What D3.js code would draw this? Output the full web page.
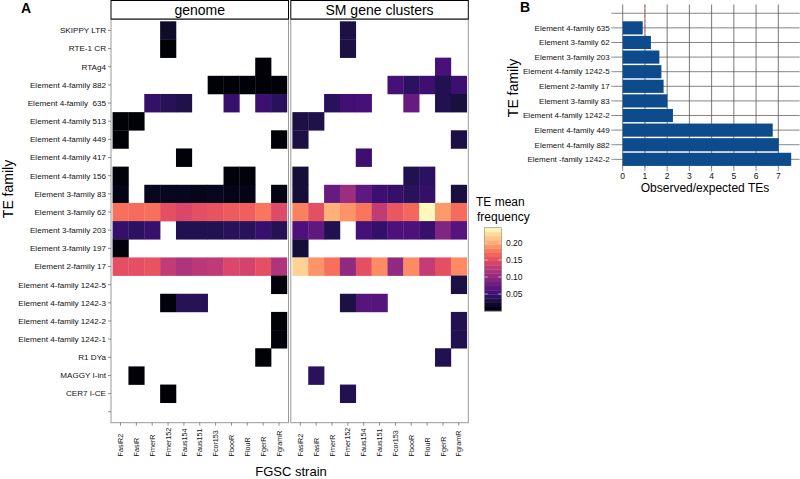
<!DOCTYPE html>
<html><head><meta charset="utf-8">
<script src="https://cdn.jsdelivr.net/npm/d3@7"></script>
<style>body{margin:0;background:#fff}svg{display:block;font-family:"Liberation Sans",Arial,sans-serif}</style>
</head><body><svg id="c" width="800" height="479"></svg>
<script>
const strains = ["FasiR2","FasiR","FmerR","Fmer152","Faus154","Faus151","Fcor153","FbooR","FlouR","FgerR","FgramR"];
const families = ["SKIPPY LTR","RTE-1 CR","RTAg4","Element 4-family 882","Element 4-family  635","Element 4-family 513","Element 4-family 449","Element 4-family 417","Element 4-family 156","Element 3-family 83","Element 3-family 62","Element 3-family 203","Element 3-family 197","Element 2-family 17","Element 4-family 1242-5","Element 4-family 1242-3","Element 4-family 1242-2","Element 4-family 1242-1","R1 DYa","MAGGY I-int","CER7 I-CE",""];
const panelNames = ["genome","SM gene clusters"];
const _ = null;
const genomeValues = [
 [_,_,_,0.02,_,_,_,_,_,_,_],
 [_,_,_,0.003,_,_,_,_,_,_,_],
 [_,_,_,_,_,_,_,_,_,0.004,_],
 [_,_,_,_,_,_,0.003,0.003,0.003,0.003,0.003],
 [_,_,0.045,0.038,0.033,_,_,0.048,_,0.05,0.04],
 [0.003,0.003,_,_,_,_,_,_,_,_,_],
 [0.003,_,_,_,_,_,_,_,_,_,0.003],
 [_,_,_,_,0.003,_,_,_,_,_,_],
 [0.006,_,_,_,_,_,_,0.006,0.006,_,_],
 [0.01,_,0.015,0.015,0.013,0.012,0.015,0.01,0.01,_,0.01],
 [0.172,0.17,0.172,0.152,0.145,0.152,0.155,0.16,0.162,0.175,0.148],
 [0.045,0.042,0.048,_,0.035,0.035,0.035,0.04,0.04,0.048,0.037],
 [0.006,_,_,_,_,_,_,_,_,_,_],
 [0.152,0.152,0.155,0.13,0.118,0.125,0.128,0.145,0.14,0.152,0.118],
 [_,_,_,_,_,_,_,_,_,_,0.006],
 [_,_,_,0.006,0.038,0.038,_,_,_,_,_],
 [_,_,_,_,_,_,_,_,_,_,0.003],
 [_,_,_,_,_,_,_,_,_,_,0.006],
 [_,_,_,_,_,_,_,_,_,0.003,_],
 [_,0.004,_,_,_,_,_,_,_,_,_],
 [_,_,_,0.002,_,_,_,_,_,_,_]
];
const smValues = [
 [_,_,_,0.03,_,_,_,_,_,_,_],
 [_,_,_,0.03,_,_,_,_,_,_,_],
 [_,_,_,_,_,_,_,_,_,0.058,_],
 [_,_,_,_,_,_,0.055,0.042,0.05,0.035,0.05],
 [_,_,0.04,0.053,0.055,_,_,0.075,_,0.035,0.028],
 [0.03,0.033,_,_,_,_,_,_,_,_,_],
 [0.03,_,_,_,_,_,_,_,_,_,0.03],
 [_,_,_,_,0.05,_,_,_,_,_,_],
 [0.025,_,_,_,_,_,_,0.035,0.042,_,_],
 [0.025,_,0.075,0.108,0.07,0.05,0.045,0.04,0.045,_,0.028],
 [0.18,0.152,0.205,0.19,0.175,0.13,0.157,0.167,0.243,0.193,0.17],
 [0.06,0.07,0.035,_,0.055,0.045,0.06,0.06,0.048,0.09,0.065],
 [0.025,_,_,_,_,_,_,_,_,_,_],
 [0.222,0.19,0.172,0.1,0.152,0.185,0.1,0.185,0.132,0.152,0.185],
 [_,_,_,_,_,_,_,_,_,_,0.03],
 [_,_,_,0.03,0.065,0.065,_,_,_,_,_],
 [_,_,_,_,_,_,_,_,_,_,0.035],
 [_,_,_,_,_,_,_,_,_,_,0.035],
 [_,_,_,_,_,_,_,_,_,0.035,_],
 [_,0.04,_,_,_,_,_,_,_,_,_],
 [_,_,_,0.035,_,_,_,_,_,_,_]
];
const legendTicks = [0.05,0.10,0.15,0.20];
const colorMax = 0.245;

const bFamilies = ["","Element 4-family 635","Element 3-family 62","Element 3-family 203","Element 4-family 1242-5","Element 2-family 17","Element 3-family 83","Element 4-family 1242-2","Element 4-family 449","Element 4-family 882","Element -family 1242-2"];
const bValues = [null,0.9,1.27,1.65,1.74,1.84,2.01,2.26,6.75,7.02,7.58];
const bTicks = [0,1,2,3,4,5,6,7];

const svg = d3.select("#c");
const color = d3.scaleSequential(d3.interpolateMagma).domain([0,colorMax]);
const txt = "#111";

// ---------- Panel A ----------
const pTop = 19.5, pBottom = 422.7;
const y = d3.scaleLinear().domain([0.4, families.length+0.6]).range([pTop,pBottom]);
const panelX = [[111,288.5],[290.8,468.3]];
const panelData = [genomeValues, smValues];

svg.append("text").attr("x",21).attr("y",12.5).attr("font-size",14).attr("font-weight","bold").text("A");

panelX.forEach((px,p)=>{
  const x = d3.scaleLinear().domain([0.4, strains.length+0.6]).range(px);
  const g = svg.append("g");
  g.append("rect").attr("x",px[0]).attr("y",pTop).attr("width",px[1]-px[0]).attr("height",pBottom-pTop)
    .attr("fill","#fff");
  const cells = [];
  panelData[p].forEach((row,i)=>row.forEach((v,j)=>{ if(v!==null) cells.push({i,j,v}); }));
  g.selectAll("rect.cell").data(cells).join("rect").attr("class","cell")
    .attr("x",d=>x(d.j+0.5)).attr("width",d=>x(d.j+1.5)-x(d.j+0.5)+0.3)
    .attr("y",d=>y(d.i+0.5)).attr("height",d=>y(d.i+1.5)-y(d.i+0.5)+0.3)
    .attr("fill",d=>color(d.v));
  g.append("rect").attr("x",px[0]).attr("y",pTop).attr("width",px[1]-px[0]).attr("height",pBottom-pTop)
    .attr("fill","none").attr("stroke","#9a9a9a").attr("stroke-width",1);
  // strip
  g.append("rect").attr("x",px[0]).attr("y",0.5).attr("width",px[1]-px[0]).attr("height",pTop-1)
    .attr("fill","#fff").attr("stroke","#000").attr("stroke-width",1);
  g.append("text").attr("x",(px[0]+px[1])/2).attr("y",14.5).attr("text-anchor","middle")
    .attr("font-size",14).text(panelNames[p]);
  // x ticks
  strains.forEach((s,j)=>{
    const cx = x(j+1);
    g.append("line").attr("x1",cx).attr("x2",cx).attr("y1",pBottom).attr("y2",pBottom+3).attr("stroke","#444").attr("stroke-width",0.6);
    g.append("text").attr("transform",`translate(${cx+2.6},456.5) rotate(-90)`)
      .attr("font-size",7.2).attr("fill",txt).text(s);
  });
});
// y axis labels
families.forEach((f,i)=>{
  const cy = y(i+1);
  svg.append("line").attr("x1",108).attr("x2",111).attr("y1",cy).attr("y2",cy).attr("stroke","#444").attr("stroke-width",0.6);
  svg.append("text").attr("x",106).attr("y",cy).attr("dy","0.35em").attr("text-anchor","end")
    .attr("font-size",8.1).attr("fill",txt).style("white-space","pre").text(f);
});
svg.append("text").attr("transform","translate(13,189) rotate(-90)").attr("text-anchor","middle").attr("font-size",14).text("TE family");
svg.append("text").attr("x",291).attr("y",475.5).attr("text-anchor","middle").attr("font-size",13).text("FGSC strain");

// legend
const lg = svg.append("g");
lg.append("text").attr("x",476).attr("y",206).attr("font-size",12).text("TE mean");
lg.append("text").attr("x",477).attr("y",221).attr("font-size",12).text("frequency");
const ly = d3.scaleLinear().domain([0,colorMax]).range([311,227.7]);
const nb = 20;
for(let k=0;k<nb;k++){
  const v0 = colorMax*k/nb, v1 = colorMax*(k+1)/nb;
  lg.append("rect").attr("x",484.3).attr("width",17.4).attr("y",ly(v1)).attr("height",ly(v0)-ly(v1)+0.3)
    .attr("fill",color((v0+v1)/2));
}
lg.append("rect").attr("x",484.3).attr("width",17.4).attr("y",ly(colorMax)).attr("height",ly(0)-ly(colorMax))
  .attr("fill","none").attr("stroke","#888").attr("stroke-width",0.6);
legendTicks.forEach(t=>{
  lg.append("line").attr("x1",484.3).attr("x2",487.8).attr("y1",ly(t)).attr("y2",ly(t)).attr("stroke","#ddd").attr("stroke-width",0.7);
  lg.append("line").attr("x1",498.2).attr("x2",501.7).attr("y1",ly(t)).attr("y2",ly(t)).attr("stroke","#ddd").attr("stroke-width",0.7);
  lg.append("text").attr("x",506).attr("y",ly(t)).attr("dy","0.35em").attr("font-size",8.5).attr("fill",txt).text(t.toFixed(2));
});

// ---------- Panel B ----------
const bx = d3.scaleLinear().domain([0,7]).range([622.7,778.3]);
const bxL = bx(-0.38), bxR = bx(7.96);
const by = d3.scaleBand().domain(bFamilies.map((d,i)=>i)).range([4.5,168.1]).paddingOuter(0.1).paddingInner(0);
const step = by.step();
const bTop = 4.5, bBot = 168.1;
const gb = svg.append("g");
bFamilies.forEach((f,i)=>{
  const cy = by(i)+step/2;
  gb.append("line").attr("x1",bxL).attr("x2",bxR).attr("y1",cy).attr("y2",cy).attr("stroke","#666").attr("stroke-width",0.8);
});
bTicks.forEach(t=>{
  gb.append("line").attr("x1",bx(t)).attr("x2",bx(t)).attr("y1",bTop).attr("y2",bBot).attr("stroke","#555").attr("stroke-width",0.8);
});
gb.append("line").attr("x1",bx(1)).attr("x2",bx(1)).attr("y1",bTop).attr("y2",bBot).attr("stroke","#e06666").attr("stroke-width",0.9).attr("stroke-dasharray","3,2");
gb.selectAll("rect.bar").data(bValues.map((v,i)=>({v,i})).filter(d=>d.v!==null)).join("rect").attr("class","bar")
  .attr("x",bx(0)).attr("width",d=>bx(d.v)-bx(0))
  .attr("y",d=>by(d.i)+step*0.05).attr("height",step*0.9)
  .attr("fill","#0d4b8d");
bFamilies.forEach((f,i)=>{
  const cy = by(i)+step/2;
  gb.append("line").attr("x1",bxL-3).attr("x2",bxL).attr("y1",cy).attr("y2",cy).attr("stroke","#444").attr("stroke-width",0.6);
  gb.append("text").attr("x",bxL-4.5).attr("y",cy).attr("dy","0.35em").attr("text-anchor","end").attr("font-size",8).attr("fill",txt).text(f);
});
bTicks.forEach(t=>{
  gb.append("line").attr("x1",bx(t)).attr("x2",bx(t)).attr("y1",bBot).attr("y2",bBot+3).attr("stroke","#444").attr("stroke-width",0.6);
  gb.append("text").attr("x",bx(t)).attr("y",179).attr("text-anchor","middle").attr("font-size",8.5).attr("fill",txt).text(t);
});
svg.append("text").attr("x",520).attr("y",11.5).attr("font-size",14).attr("font-weight","bold").text("B");
svg.append("text").attr("transform","translate(518,88) rotate(-90)").attr("text-anchor","middle").attr("font-size",14).text("TE family");
svg.append("text").attr("x",705).attr("y",192).attr("text-anchor","middle").attr("font-size",12).text("Observed/expected TEs");
</script></body></html>
